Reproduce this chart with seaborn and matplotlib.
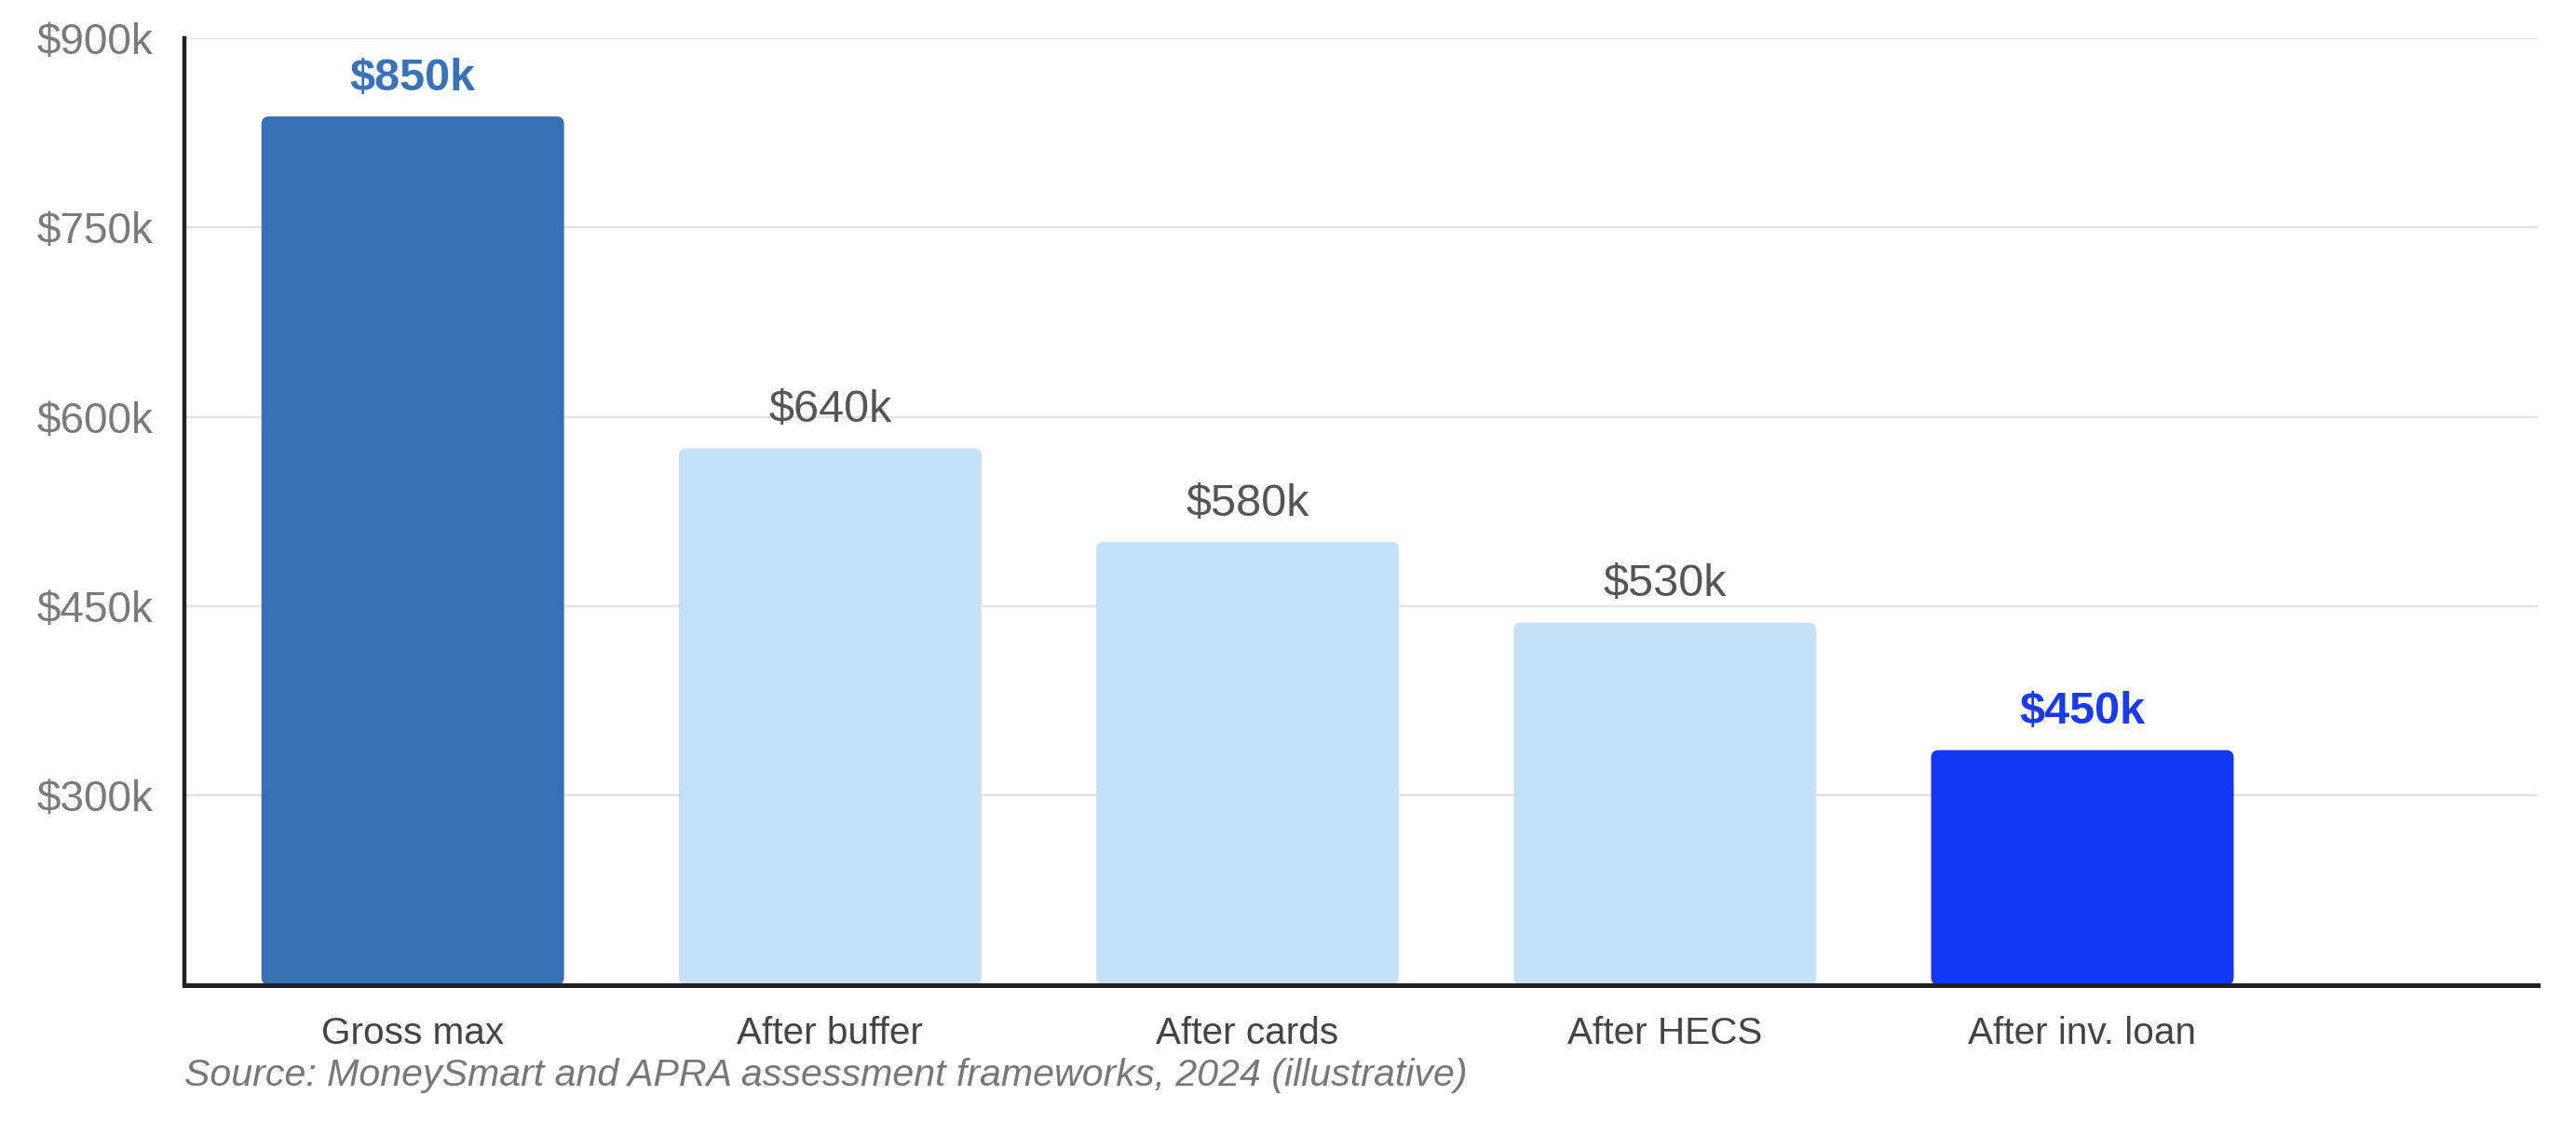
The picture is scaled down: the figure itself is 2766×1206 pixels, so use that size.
import matplotlib
matplotlib.use("Agg")
import matplotlib.pyplot as plt
import seaborn as sns
import pandas as pd
from matplotlib.patches import FancyBboxPatch
from matplotlib.ticker import FuncFormatter

# 데이터
categories = ["Gross max", "After buffer", "After cards", "After HECS", "After inv. loan"]
bar_values = [838, 575, 501, 437, 336]          # 막대 높이 ($k)
value_labels = ["$850k", "$640k", "$580k", "$530k", "$450k"]
bar_colors = ["#3870B5", "#C5E1F9", "#C5E1F9", "#C5E1F9", "#1436F5"]
label_colors = ["#3A72B8", "#555555", "#555555", "#555555", "#1A3AF0"]
label_weights = ["bold", "normal", "normal", "normal", "bold"]
y_ticks = [300, 450, 600, 750, 900]

sns.set_style("white")
plt.rcParams["font.family"] = ["Liberation Sans", "DejaVu Sans"]

df = pd.DataFrame({"step": categories, "value": bar_values})

fig = plt.figure(figsize=(13.83, 6.03), dpi=200)
ax = fig.add_axes([0.0716, 0.123, 0.9134, 0.843])

sns.barplot(data=df, x="step", y="value", hue="step", palette=bar_colors,
            legend=False, width=0.725, ax=ax, saturation=1)

ymin = 150
ax.set_ylim(ymin, 900)
ax.set_xlim(-0.547, 5.09)

# 막대를 둥근 모서리로 바꾸기
for p, c in zip(list(ax.patches), bar_colors):
    x0, w, top = p.get_x(), p.get_width(), p.get_height()
    p.remove()
    ax.add_patch(FancyBboxPatch((x0, ymin), w, top - ymin,
                                boxstyle="round,pad=0,rounding_size=0.018",
                                mutation_aspect=330, fc=c, ec="none", zorder=2))

# 값 라벨
for i, (v, t) in enumerate(zip(bar_values, value_labels)):
    ax.text(i, v + 30, t, ha="center", va="center", fontsize=17.5,
            color=label_colors[i], fontweight=label_weights[i])

ax.set_yticks(y_ticks)
ax.yaxis.set_major_formatter(FuncFormatter(lambda v, _: f"${v:.0f}k"))
ax.grid(axis="y", color="#E3E3E3", linewidth=0.8, zorder=0)
ax.set_axisbelow(True)
ax.tick_params(axis="y", length=0, pad=12, labelsize=16.5, labelcolor="#7A7A7A")
ax.tick_params(axis="x", length=0, pad=12, labelsize=14.6, labelcolor="#444444")
ax.set_xlabel("")
ax.set_ylabel("")

for s in ["top", "right"]:
    ax.spines[s].set_visible(False)
ax.spines["left"].set_color("#222222")
ax.spines["left"].set_linewidth(1.6)
ax.spines["bottom"].set_color("#222222")
ax.spines["bottom"].set_linewidth(1.8)

fig.text(0.0716, 0.042, "Source: MoneySmart and APRA assessment frameworks, 2024 (illustrative)",
         ha="left", va="center", fontsize=14.8, style="italic", color="#777777")

fig.savefig("out.png", dpi=200)
